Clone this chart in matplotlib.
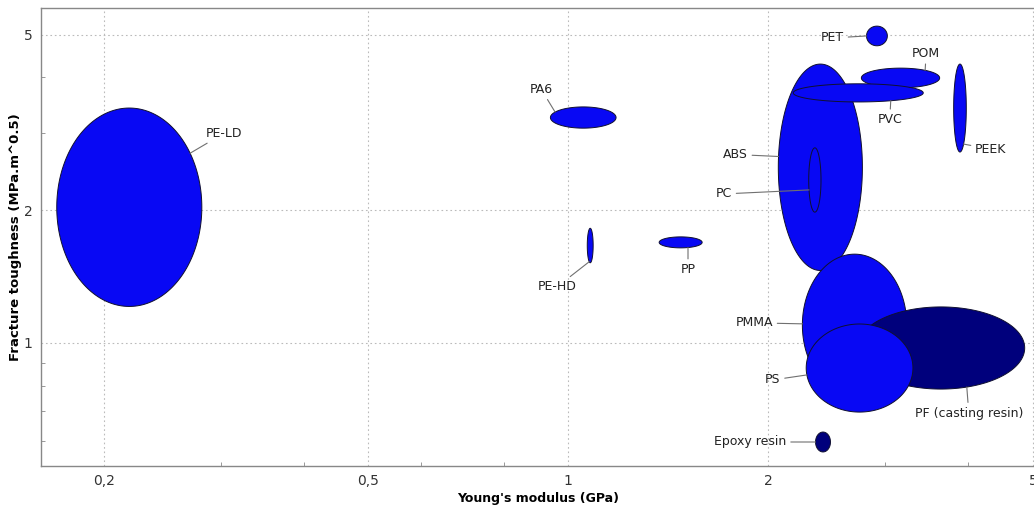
import numpy as np
import matplotlib
matplotlib.use("Agg")
import matplotlib.pyplot as plt
from matplotlib.ticker import FixedLocator, NullFormatter

# ---- data (ranges of each material family) ----
materials = ["PE-LD", "PA6", "PE-HD", "PP", "ABS", "PC", "PET", "POM", "PVC",
             "PEEK", "PMMA", "PF (casting resin)", "PS", "Epoxy resin"]
E_low  = [0.170, 0.94, 1.068, 1.37, 2.07, 2.30, 2.81, 2.76, 2.18, 3.80, 2.25, 2.72, 2.28, 2.355]
E_high = [0.281, 1.18, 1.090, 1.59, 2.77, 2.40, 3.02, 3.62, 3.42, 3.97, 3.23, 4.86, 3.30, 2.48]
K_low  = [1.21, 3.07, 1.52, 1.643, 1.46, 1.98, 4.72, 3.79, 3.52, 2.71, 0.758, 0.786, 0.697, 0.566]
K_high = [3.41, 3.43, 1.82, 1.740, 4.29, 2.77, 5.23, 4.20, 3.87, 4.29, 1.59, 1.207, 1.104, 0.628]
family = ["thermoplastic"] * 11 + ["thermoset", "thermoplastic", "thermoset"]

x_ticks = [0.2, 0.5, 1, 2, 5]
x_ticklabels = ["0,2", "0,5", "1", "2", "5"]
y_ticks = [1, 2, 5]
y_ticklabels = ["1", "2", "5"]

# ---- layout / style ----
colors = {"thermoplastic": "#0808F4", "thermoset": "#00007C"}
# label attachment angle on the ellipse (deg) and text offset (pixels)
label_angle = [33, 149, -110, -70, 174, 198, 180, 51, -60, -55, 179, -72, 189, 180]
label_off = [(34, 20), (-14, 23), (-32, -25), (0, -22), (-43, 2), (-85, -4),
             (-34, -2), (1, 17), (-1, -19), (27, -5), (-48, 1), (2, -26),
             (-34, -5), (-65, 0)]

fig = plt.figure(figsize=(10.34, 5.08), dpi=100)
ax = fig.add_axes([0.0397, 0.0827, 0.962, 0.9016])
ax.set_xscale("log")
ax.set_yscale("log")
ax.set_xlim(0.161, 5.05)
ax.set_ylim(0.526, 5.75)

t = np.linspace(0, 2 * np.pi, 200)
for i, name in enumerate(materials):
    cx = (np.log10(E_low[i]) + np.log10(E_high[i])) / 2
    ax_ = (np.log10(E_high[i]) - np.log10(E_low[i])) / 2
    cy = (np.log10(K_low[i]) + np.log10(K_high[i])) / 2
    ay = (np.log10(K_high[i]) - np.log10(K_low[i])) / 2
    xs = 10 ** (cx + ax_ * np.cos(t))
    ys = 10 ** (cy + ay * np.sin(t))
    ax.fill(xs, ys, facecolor=colors[family[i]], edgecolor="#101030",
            linewidth=0.7, zorder=2 + i * 0.01)
    a = np.deg2rad(label_angle[i])
    px = 10 ** (cx + ax_ * np.cos(a))
    py = 10 ** (cy + ay * np.sin(a))
    ax.annotate(name, xy=(px, py), xytext=label_off[i], textcoords="offset pixels",
                ha="center", va="center", fontsize=9, color="#222222", zorder=5,
                arrowprops=dict(arrowstyle="-", color="#707070", lw=0.8,
                                shrinkA=1, shrinkB=0))

ax.xaxis.set_major_locator(FixedLocator(x_ticks))
ax.set_xticklabels(x_ticklabels)
ax.yaxis.set_major_locator(FixedLocator(y_ticks))
ax.set_yticklabels(y_ticklabels)
ax.xaxis.set_minor_locator(FixedLocator([0.3, 0.4, 0.6, 0.8, 3, 4]))
ax.yaxis.set_minor_locator(FixedLocator([0.6, 0.7, 0.8, 0.9, 3, 4]))
ax.xaxis.set_minor_formatter(NullFormatter())
ax.yaxis.set_minor_formatter(NullFormatter())
ax.tick_params(which="major", length=0, labelsize=10, colors="#333333", pad=6)
ax.tick_params(which="minor", direction="in", length=3, color="#888888")

ax.grid(True, which="major", linestyle=(0, (1.5, 2.5)), color="#BBBBBB", linewidth=0.8)
ax.set_axisbelow(True)
for s in ax.spines.values():
    s.set_color("#888888")
    s.set_linewidth(1.0)

ax.set_xlabel("Young's modulus (GPa)", fontsize=9, fontweight="bold", labelpad=3)
ax.set_ylabel("Fracture toughness (MPa.m^0.5)", fontsize=9.5, fontweight="bold", labelpad=1)

fig.savefig("out.png", dpi=100)
